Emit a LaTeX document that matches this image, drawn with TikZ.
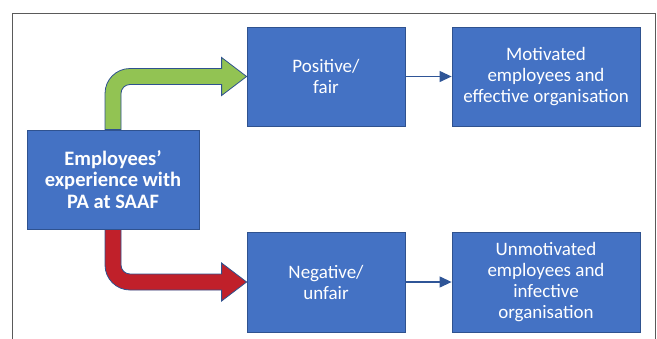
\documentclass[tikz,border=0pt]{standalone}
\usepackage{fontspec}
\setmainfont{Carlito}
\usetikzlibrary{calc,arrows.meta}
\definecolor{boxblue}{HTML}{4472C4}
\definecolor{edgeblue}{HTML}{2F528F}
\definecolor{linkblue}{HTML}{2F5597}
\definecolor{posgreen}{HTML}{92C353}
\definecolor{negred}{HTML}{C0202A}
\definecolor{framegray}{HTML}{5A5A5A}
\tikzstyle{block} = [rectangle, draw=edgeblue, fill=boxblue, text=white, align=center, inner sep=0pt, line width=0.8pt, font=\fontsize{19}{21}\selectfont]
\tikzstyle{arrow} = [draw=linkblue, line width=1.2pt, -{Triangle[length=12pt,width=11pt]}]
\tikzstyle{fat} = [draw=edgeblue, line width=0.8pt]

\begin{document}
\begin{tikzpicture}[x=1pt, y=-1pt]
      \pgfmathsetmacro{\sh}{8}
      \pgfmathsetmacro{\hw}{19}
      \pgfmathsetmacro{\hl}{25}
      \useasboundingbox (0,0) rectangle (657,338);
      \draw [framegray, line width=1pt] (12,345) -- (12,13) -- (655,13) -- (655,345);
      \node [block, minimum width=172pt, minimum height=99pt, font=\bfseries\fontsize{20.5}{21.5}\selectfont] at (113, 179.5) (exp) {Employees’\\experience with\\PA at SAAF};
      \node [block, minimum width=158pt, minimum height=99pt] at (326, 76.5) (pos) {Positive/\\fair};
      \node [block, minimum width=188pt, minimum height=99pt] at (546, 76.5) (mot) {Motivated\\employees and\\effective organisation};
      \node [block, minimum width=158pt, minimum height=100pt] at (326, 282) (neg) {Negative/\\unfair};
      \node [block, minimum width=188pt, minimum height=100pt] at (546, 282) (unmot) {Unmotivated\\employees and\\infective\\organisation};
      \coordinate (gcorner) at (exp.north |- pos.west);
      \coordinate (rcorner) at (exp.south |- neg.west);
      % bent block arrows
      \path [fat, fill=posgreen] ($(exp.north)+(-\sh,0)$) [rounded corners=25pt] -- ($(gcorner)+(-\sh,-\sh)$) [sharp corners] -- ($(pos.west)+(-\hl,-\sh)$) -- ($(pos.west)+(-\hl,-\hw)$) -- (pos.west) -- ($(pos.west)+(-\hl,\hw)$) -- ($(pos.west)+(-\hl,\sh)$) [rounded corners=9pt] -- ($(gcorner)+(\sh,\sh)$) [sharp corners] -- ($(exp.north)+(\sh,0)$) -- cycle;
      \path [fat, fill=negred] ($(exp.south)+(-\sh,0)$) [rounded corners=25pt] -- ($(rcorner)+(-\sh,\sh)$) [sharp corners] -- ($(neg.west)+(-\hl,\sh)$) -- ($(neg.west)+(-\hl,\hw)$) -- (neg.west) -- ($(neg.west)+(-\hl,-\hw)$) -- ($(neg.west)+(-\hl,-\sh)$) [rounded corners=9pt] -- ($(rcorner)+(\sh,-\sh)$) [sharp corners] -- ($(exp.south)+(\sh,0)$) -- cycle;
      \path [arrow] (pos) -- (mot);
      \path [arrow] (neg) -- (unmot);
\end{tikzpicture}
\end{document}
